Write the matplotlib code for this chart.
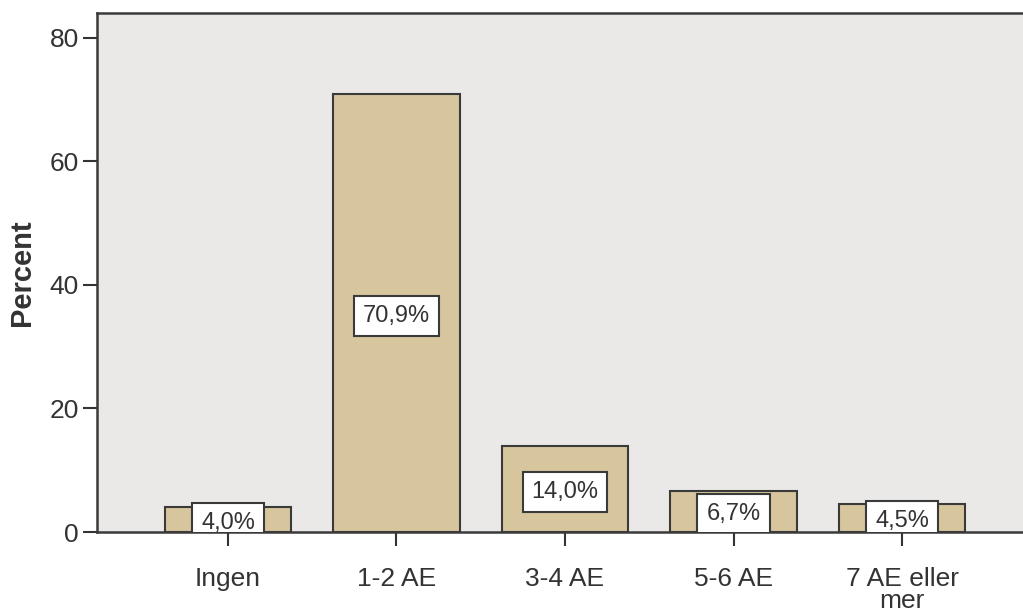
#!/usr/bin/env python3
"""SPSS-style bar chart: number of units (AE), percent."""

import matplotlib
matplotlib.use('Agg')
import matplotlib.pyplot as plt
import numpy as np

categories = ["Ingen", "1-2 AE", "3-4 AE", "5-6 AE", "7 AE eller\nmer"]
percent = [4.0, 70.9, 14.0, 6.7, 4.5]
yticks = [0, 20, 40, 60, 80]

plt.rcParams['font.family'] = ['Liberation Sans', 'DejaVu Sans']

W, H = 1023, 615
fig = plt.figure(figsize=(W / 100, H / 100), dpi=100)
ax = fig.add_axes([97 / W, 83 / H, (1033 - 97) / W, (532 - 13) / H])

ink = '#333333'
ax.set_facecolor('#ebe9e7')
x = np.arange(len(categories))
ax.bar(x, percent, width=0.75, color='#d6c59d', edgecolor='#3a3a3a',
       linewidth=1.5, zorder=2)

for xi, v in zip(x, percent):
    ax.annotate(f"{v:.1f}%".replace('.', ','), (xi, v / 2),
                xytext=(0, -3), textcoords='offset pixels',
                ha='center', va='center', fontsize=17, color=ink,
                zorder=3, annotation_clip=False, clip_on=True,
                bbox=dict(boxstyle='square,pad=0.38', fc='white',
                          ec='#3a3a3a', lw=1.5))

ax.set_xlim(-0.777, 4.777)
ax.set_ylim(0, 84)
ax.set_xticks(x)
ax.set_xticklabels(categories, fontsize=19, color=ink, linespacing=0.9)
ax.set_yticks(yticks)
ax.set_yticklabels([str(t) for t in yticks], fontsize=19, color=ink)
ax.tick_params(axis='both', length=10, width=1.5, color=ink)
ax.tick_params(axis='y', pad=3)
ax.tick_params(axis='x', pad=15)
ax.set_ylabel('Percent', fontsize=21, fontweight='bold', color=ink, labelpad=10)

for s in ax.spines.values():
    s.set_color('#3a3a3a')
    s.set_linewidth(1.8)

plt.savefig('out.png', dpi=100)
